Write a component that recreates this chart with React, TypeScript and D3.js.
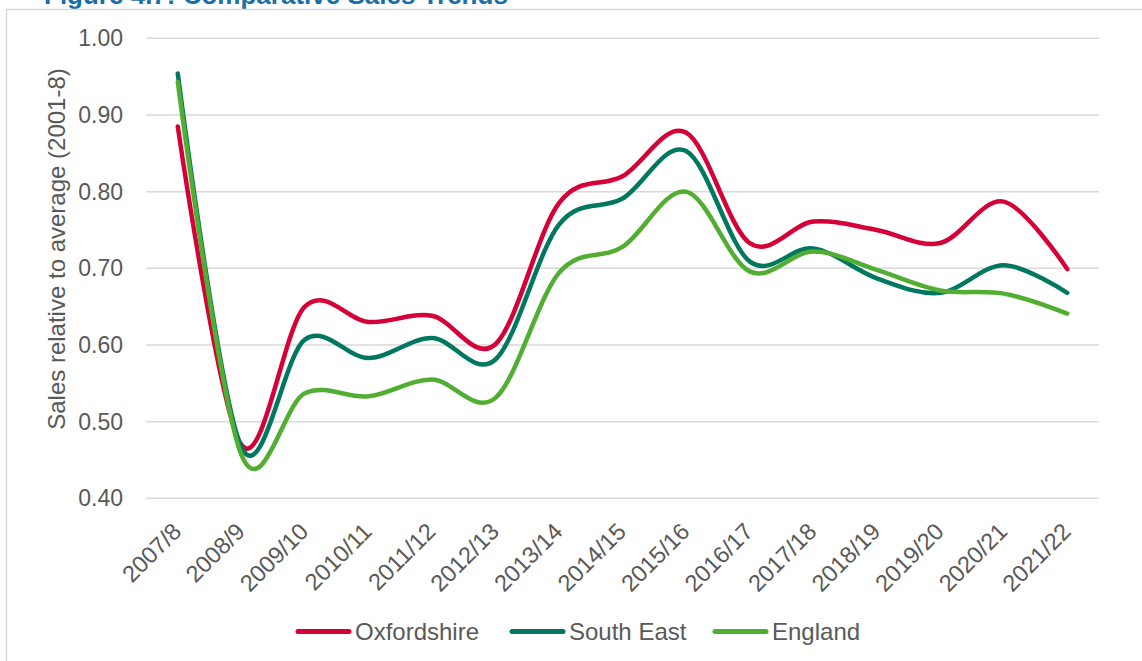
import React from "react";
import * as d3 from "d3";

const categories = ["2007/8","2008/9","2009/10","2010/11","2011/12","2012/13","2013/14","2014/15","2015/16","2016/17","2017/18","2018/19","2019/20","2020/21","2021/22"];
const oxfordshire = [0.885,0.470,0.650,0.630,0.638,0.601,0.785,0.820,0.877,0.733,0.761,0.750,0.733,0.787,0.699];
const southEast = [0.954,0.467,0.607,0.583,0.609,0.581,0.757,0.791,0.853,0.709,0.726,0.687,0.668,0.704,0.668];
const england = [0.943,0.457,0.537,0.533,0.555,0.531,0.694,0.728,0.800,0.696,0.722,0.698,0.671,0.667,0.641];
const yTicks = [0.4,0.5,0.6,0.7,0.8,0.9,1.0];
const seriesNames = ["Oxfordshire","South East","England"];
const seriesColors = ["#D50037","#00785F","#52AE32"];

const W = 1142, H = 661;
const FONT = "'Liberation Sans', Arial, sans-serif";
const TXT = "#595959";

export default function App() {
  const x = d3.scalePoint<string>().domain(categories).range([146, 1099]).padding(0.5);
  const y = d3.scaleLinear().domain([0.4, 1.0]).range([498.3, 38.3]);
  const line = d3.line<number>()
    .x((_, i) => x(categories[i]) as number)
    .y(d => y(d))
    .curve(d3.curveCardinal.tension(0));
  const series = [oxfordshire, southEast, england];
  const legendX = [296, 510, 713];

  return (
    <div style={{ position: "absolute", left: 0, top: 0, width: W, height: H, background: "#fff" }}>
      <svg width={W} height={H} style={{ display: "block", fontFamily: FONT }}>
        <rect x={0} y={0} width={W} height={H} fill="#fff" />
        <text x={44} y={4} fontSize={26} fontWeight="bold" fill="#1A6FA8">Figure 4.7: Comparative Sales Trends</text>
        <rect x={6.5} y={9.5} width={W + 20} height={H + 20} fill="none" stroke="#D9D9D9" strokeWidth={1.5} />
        {yTicks.map(t => (
          <g key={t}>
            <line x1={146} x2={1099} y1={y(t)} y2={y(t)} stroke="#D9D9D9" strokeWidth={1.5} />
            <text x={123} y={y(t)} dy="0.35em" textAnchor="end" fontSize={23} fill={TXT}>{t.toFixed(2)}</text>
          </g>
        ))}
        <text transform="translate(57,249) rotate(-90)" textAnchor="middle" dy="0.35em" fontSize={24} fill={TXT}>Sales relative to average (2001-8)</text>
        {categories.map(c => (
          <text key={c} transform={`translate(${(x(c) as number) + 5},533) rotate(-45)`} textAnchor="end" fontSize={23.5} fill={TXT}>{c}</text>
        ))}
        {series.map((s, i) => (
          <path key={i} d={line(s) || ""} fill="none" stroke={seriesColors[i]} strokeWidth={4.5} strokeLinecap="round" strokeLinejoin="round" />
        ))}
        {seriesNames.map((n, i) => (
          <g key={n}>
            <line x1={legendX[i] + 2} x2={legendX[i] + 53} y1={631.5} y2={631.5} stroke={seriesColors[i]} strokeWidth={5} strokeLinecap="round" />
            <text x={legendX[i] + 59} y={631.5} dy="0.35em" fontSize={24} fill={TXT}>{n}</text>
          </g>
        ))}
      </svg>
    </div>
  );
}
